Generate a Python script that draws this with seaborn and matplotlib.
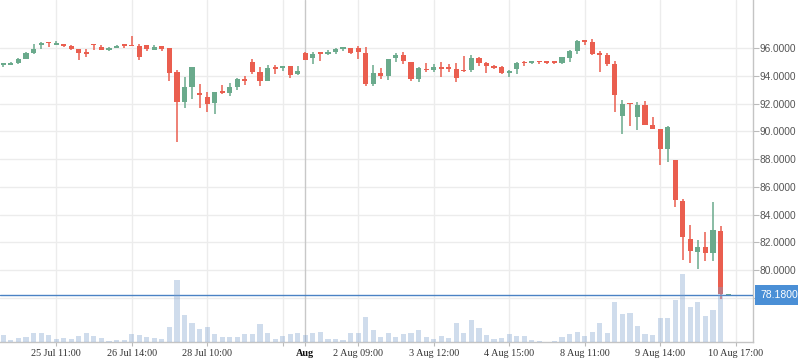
import numpy as np
import pandas as pd
import matplotlib
matplotlib.use('Agg')
import matplotlib.pyplot as plt
import seaborn as sns

# candle data (one bar per period)
opens = [94.82, 94.83, 94.94, 95.23, 95.69, 96.27, 96.41, 96.27, 96.31, 96.17,
         95.95, 95.66, 96.27, 96.10, 95.90, 96.05, 96.22, 96.19, 96.17, 96.24,
         95.90, 96.17, 96.05, 94.29, 92.14, 93.20, 92.73, 92.48, 92.07, 92.92,
         92.80, 93.23, 93.78, 95.01, 94.29, 93.66, 94.60, 94.60, 94.72, 94.17,
         95.66, 95.28, 95.64, 95.61, 95.71, 95.98, 96.00, 96.00, 95.66, 93.45,
         94.22, 94.02, 95.33, 95.52, 95.01, 93.81, 94.51, 94.46, 94.65, 94.58,
         94.51, 94.43, 94.46, 95.30, 94.94, 94.72, 94.65, 94.24, 94.53, 94.96,
         94.96, 95.06, 95.01, 95.01, 94.96, 95.33, 95.81, 96.55, 96.46, 95.59,
         95.52, 94.87, 91.11, 92.00, 91.06, 91.90, 90.43, 90.17, 88.75, 87.95,
         85.00, 82.26, 81.30, 81.64, 81.21, 82.79, 78.16]
closes = [94.88, 94.96, 95.23, 95.69, 95.95, 96.30, 96.36, 96.30, 96.17, 95.98,
          95.66, 95.61, 96.22, 95.90, 96.02, 96.19, 96.17, 96.14, 95.40, 95.98,
          96.07, 95.98, 94.24, 92.14, 93.20, 94.65, 92.63, 92.00, 92.84, 92.80,
          93.20, 93.78, 93.66, 94.29, 93.66, 94.58, 94.51, 94.72, 94.10, 94.36,
          95.18, 95.59, 95.59, 95.69, 95.93, 96.05, 95.64, 95.76, 93.45, 94.22,
          94.02, 95.20, 95.52, 95.11, 93.81, 94.58, 94.43, 94.65, 94.53, 94.51,
          93.88, 94.36, 95.30, 94.96, 94.75, 94.60, 94.24, 94.29, 94.94, 94.92,
          95.01, 95.01, 94.96, 94.96, 95.37, 95.81, 96.53, 96.48, 95.61, 95.54,
          94.89, 92.65, 91.95, 91.95, 91.90, 90.48, 90.19, 88.75, 90.31, 85.02,
          82.36, 81.35, 81.64, 81.21, 82.91, 78.23, 78.18]
highs = [94.95, 95.00, 95.30, 95.74, 96.31, 96.43, 96.43, 96.53, 96.31, 96.24,
         95.95, 95.95, 96.31, 96.24, 96.07, 96.26, 96.34, 96.92, 96.31, 96.24,
         96.24, 96.17, 96.05, 94.43, 93.93, 94.65, 93.44, 92.84, 92.84, 93.35,
         93.49, 93.88, 94.00, 95.23, 94.65, 94.82, 94.82, 94.72, 94.72, 94.72,
         95.74, 95.74, 95.66, 95.88, 96.00, 96.10, 96.00, 96.14, 96.10, 94.80,
         94.58, 95.20, 95.66, 95.74, 95.01, 94.65, 94.94, 94.87, 95.01, 94.87,
         94.94, 95.45, 95.52, 95.37, 95.01, 94.80, 94.72, 94.43, 95.01, 95.08,
         95.08, 95.08, 95.08, 95.01, 95.37, 95.88, 96.60, 96.60, 96.67, 95.81,
         95.66, 95.08, 92.26, 92.02, 92.14, 92.22, 91.04, 90.17, 90.39, 87.95,
         85.14, 83.27, 82.19, 82.72, 84.88, 83.20, 78.19]
lows = [94.65, 94.82, 94.90, 95.23, 95.59, 95.98, 96.12, 96.27, 96.07, 95.88,
        95.16, 95.40, 95.90, 95.90, 95.80, 96.05, 96.05, 96.14, 95.16, 95.78,
        95.90, 95.83, 93.64, 89.25, 91.71, 92.34, 91.71, 91.42, 91.28, 92.67,
        92.58, 92.99, 93.33, 94.17, 93.30, 93.66, 94.17, 94.34, 93.88, 94.07,
        95.18, 94.84, 95.11, 95.52, 95.57, 95.83, 95.57, 95.23, 93.30, 93.30,
        93.78, 93.71, 95.04, 94.89, 93.66, 93.59, 94.31, 94.31, 93.95, 94.31,
        93.59, 94.31, 94.31, 94.75, 94.24, 94.51, 94.17, 93.95, 94.17, 94.75,
        94.89, 94.89, 94.89, 94.89, 94.89, 95.04, 95.59, 96.27, 95.54, 94.31,
        94.75, 91.42, 89.80, 90.37, 90.10, 90.48, 90.19, 87.59, 87.80, 84.54,
        80.70, 80.51, 80.08, 80.68, 80.68, 77.87, 78.16]
volumes = [7, 2, 4, 5, 9, 9, 7, 3, 4, 3,
           6, 9, 6, 4, 1, 2, 2, 8, 7, 5,
           4, 3, 15, 62, 27, 19, 13, 15, 8, 5,
           5, 5, 8, 8, 18, 9, 3, 6, 8, 9,
           7, 9, 10, 3, 3, 2, 9, 9, 25, 12,
           5, 9, 5, 8, 9, 12, 5, 3, 6, 4,
           19, 9, 22, 14, 7, 3, 4, 8, 6, 6,
           2, 1, 0.5, 1, 5, 8, 10, 6, 10, 19,
           9, 40, 28, 29, 16, 8, 7, 24, 24, 42,
           68, 35, 40, 26, 32, 55, 0]

tick_pos = [7, 17, 27, 37, 40, 47, 57, 67, 77, 87, 97]
tick_labels = ['25 Jul 11:00', '26 Jul 14:00', '28 Jul 10:00', '', 'Aug',
               '2 Aug 09:00', '3 Aug 12:00', '4 Aug 15:00', '8 Aug 11:00',
               '9 Aug 14:00', '10 Aug 17:00']
month_pos = 40
price_ticks = [78, 80, 82, 84, 86, 88, 90, 92, 94, 96]
last_price = 78.18

df = pd.DataFrame({'open': opens, 'close': closes, 'high': highs,
                   'low': lows, 'volume': volumes})
df['idx'] = np.arange(len(df))

sns.set_theme(style="white")
plt.rcParams['font.family'] = ['Liberation Sans', 'DejaVu Sans']

RED = '#ea5e4f'
GREEN = '#6aaa8c'

fig = plt.figure(figsize=(7.98, 3.63), dpi=100)
ax = fig.add_axes([0, 21 / 363, 753 / 798, 342 / 363])
axv = ax.twinx()  # volume overlay (twinx moves ax ticks left, fixed below)

# grid
for y in price_ticks:
    ax.axhline(y, color='#ececec', lw=1, zorder=0)
for x in tick_pos:
    if x == month_pos:
        ax.axvline(x, color='#c8c8c8', lw=1, zorder=0)
    else:
        ax.axvline(x, color='#ececec', lw=1, zorder=0)

up = df['close'] >= df['open']
colors = np.where(up, GREEN, RED)

# wicks
ax.vlines(df['idx'], df['low'], df['high'], colors=colors, lw=1.1, zorder=2)
# bodies
body_lo = df[['open', 'close']].min(axis=1)
body_h = (df['close'] - df['open']).abs().clip(lower=0.11)
ax.bar(df['idx'], body_h, bottom=body_lo, width=0.68, color=colors,
       linewidth=0, zorder=3)

ax.axhline(last_price, color='#4a82c4', lw=1, zorder=4)

ax.set_xlim(-0.44, 99.3)
ax.set_ylim(74.80, 99.49)

ax.yaxis.tick_right()
ax.yaxis.set_label_position('right')
ax.set_yticks(price_ticks)
ax.set_yticklabels([f'{v:.4f}' if v >= 80 else '' for v in price_ticks])
ax.tick_params(axis='y', left=False, right=True, labelleft=False,
               labelright=True, length=4, width=0.8, color='#bbbbbb',
               labelsize=7.3, labelcolor='#555555', pad=1)

ax.set_xticks(tick_pos)
ax.set_xticklabels(tick_labels)
ax.tick_params(axis='x', bottom=True, length=3, width=0.8, color='#bbbbbb',
               labelsize=7.3, labelcolor='#333333', pad=2)
for lab, pos in zip(ax.get_xticklabels(), tick_pos):
    lab.set_fontfamily(['Liberation Serif', 'DejaVu Serif'])
    if pos == month_pos:
        lab.set_fontweight('bold')
        lab.set_color('#111111')

for s in ['top', 'left']:
    ax.spines[s].set_visible(False)
for s in ['right', 'bottom']:
    ax.spines[s].set_color('#c4c4c4')
    ax.spines[s].set_linewidth(1)

sns.barplot(data=df, x='idx', y='volume', native_scale=True, ax=axv,
            color='#7da0ce', alpha=0.37, width=0.68, linewidth=0,
            saturation=1, zorder=5)
axv.set_ylim(0, 342)
axv.set_xlim(-0.44, 99.3)
axv.set_yticks([])
axv.set_ylabel('')
axv.set_xlabel('')
for s in axv.spines.values():
    s.set_visible(False)

axv.annotate(f'{last_price:.4f}', xy=(1, last_price),
             xycoords=('axes fraction', ax.transData), xytext=(5, 0),
             textcoords='offset points', ha='left', va='center',
             fontsize=7.5, color='white', annotation_clip=False, zorder=10,
             bbox=dict(boxstyle='square,pad=0.5', fc='#4a8fd6', ec='none'))

fig.savefig('out.png', dpi=100)
